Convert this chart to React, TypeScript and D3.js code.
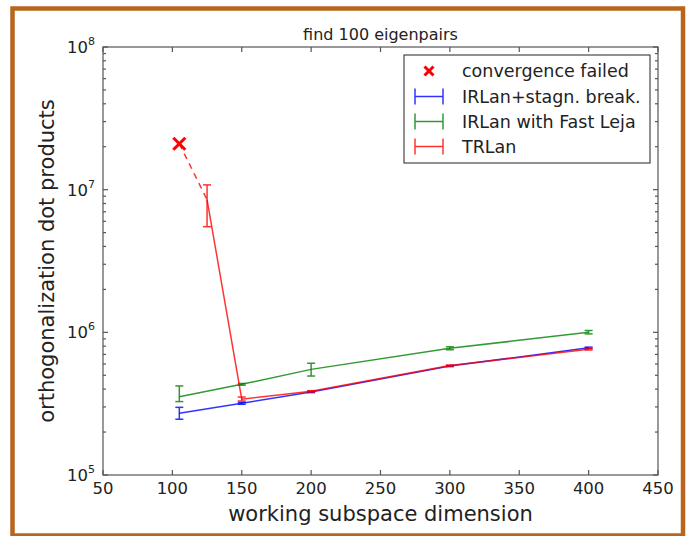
import React from 'react';
import * as d3 from 'd3';

// working subspace dimension vs. orthogonalization dot products (log scale)
const dims = [105, 150, 200, 300, 400];
const stagnVals = [2.71e5, 3.18e5, 3.82e5, 5.8e5, 7.8e5];
const stagnLo = [2.46e5, 3.13e5, 3.78e5, 5.75e5, 7.72e5];
const stagnHi = [2.98e5, 3.23e5, 3.86e5, 5.85e5, 7.88e5];

const lejaVals = [3.54e5, 4.32e5, 5.5e5, 7.73e5, 1.0e6];
const lejaLo = [3.27e5, 4.26e5, 4.94e5, 7.55e5, 9.75e5];
const lejaHi = [4.21e5, 4.38e5, 6.07e5, 7.92e5, 1.03e6];

const trlanDims = [125, 150, 200, 300, 400];
const trlanVals = [8.5e6, 3.4e5, 3.86e5, 5.85e5, 7.6e5];
const trlanLo = [5.5e6, 3.3e5, 3.82e5, 5.8e5, 7.52e5];
const trlanHi = [1.08e7, 3.52e5, 3.9e5, 5.9e5, 7.68e5];

const failedDim = 105;
const failedVal = 2.1e7;

const xTicks = [50, 100, 150, 200, 250, 300, 350, 400, 450];
const yDecades = [5, 6, 7, 8];

const legendLabels = ['convergence failed', 'IRLan+stagn. break.', 'IRLan with Fast Leja', 'TRLan'];

const W = 691;
const H = 536;
const margin = { left: 103, right: 658, top: 47, bottom: 475 };
const font = 'DejaVu Sans, sans-serif';

const x = d3.scaleLinear().domain([50, 450]).range([margin.left, margin.right]);
const y = d3.scaleLog().domain([1e5, 1e8]).range([margin.bottom, margin.top]);

const series = [
  { name: legendLabels[1], color: '#0000ff', xs: dims, v: stagnVals, lo: stagnLo, hi: stagnHi },
  { name: legendLabels[2], color: '#008000', xs: dims, v: lejaVals, lo: lejaLo, hi: lejaHi },
  { name: legendLabels[3], color: '#ff0000', xs: trlanDims, v: trlanVals, lo: trlanLo, hi: trlanHi },
];

const line = d3.line<[number, number]>().x(d => x(d[0])).y(d => y(d[1]));

const minorTicks: number[] = [];
yDecades.slice(0, -1).forEach(e => {
  for (let k = 2; k < 10; k++) minorTicks.push(k * Math.pow(10, e));
});

const ErrorBars = ({ s }) => (
  <g stroke={s.color} strokeWidth={1.5} opacity={0.8}>
    {s.xs.map((d, i) => (
      <g key={i}>
        <line x1={x(d)} x2={x(d)} y1={y(s.lo[i])} y2={y(s.hi[i])} />
        <line x1={x(d) - 4} x2={x(d) + 4} y1={y(s.lo[i])} y2={y(s.lo[i])} />
        <line x1={x(d) - 4} x2={x(d) + 4} y1={y(s.hi[i])} y2={y(s.hi[i])} />
      </g>
    ))}
  </g>
);

const Cross = ({ cx, cy, r }) => (
  <g stroke="#ff0000" strokeWidth={3}>
    <line x1={cx - r} x2={cx + r} y1={cy - r} y2={cy + r} />
    <line x1={cx - r} x2={cx + r} y1={cy + r} y2={cy - r} />
  </g>
);

const App = () => {
  const lgX = 404;
  const lgY = 55;
  const rowY = [71, 96.5, 121.5, 146.5];

  return (
    <svg width={W} height={H} style={{ position: 'absolute', left: 0, top: 0, background: '#fff' }} fontFamily={font}>
      <rect x={12.5} y={8.5} width={670.5} height={527} fill="none" stroke="#b8661e" strokeWidth={4.5} />

      <text x={(margin.left + margin.right) / 2} y={40} fontSize={16} textAnchor="middle" fill="#222">
        find 100 eigenpairs
      </text>

      {/* data */}
      {series.map(s => (
        <g key={s.name}>
          <path d={line(s.xs.map((d, i) => [d, s.v[i]]))} fill="none" stroke={s.color} strokeWidth={1.5} opacity={0.8} />
          <ErrorBars s={s} />
        </g>
      ))}
      <path
        d={line([[failedDim, failedVal], [trlanDims[0], trlanVals[0]]])}
        fill="none" stroke="#ff0000" strokeWidth={1.5} strokeDasharray="6,5" opacity={0.8}
      />
      <Cross cx={x(failedDim)} cy={y(failedVal)} r={6} />

      {/* axes frame and ticks */}
      <g stroke="#555" strokeWidth={1.2}>
        <rect x={margin.left} y={margin.top} width={margin.right - margin.left} height={margin.bottom - margin.top} fill="none" />
        {xTicks.map(t => (
          <g key={t}>
            <line x1={x(t)} x2={x(t)} y1={margin.bottom} y2={margin.bottom - 5} />
            <line x1={x(t)} x2={x(t)} y1={margin.top} y2={margin.top + 5} />
          </g>
        ))}
        {yDecades.map(e => (
          <g key={e}>
            <line x1={margin.left} x2={margin.left + 5} y1={y(Math.pow(10, e))} y2={y(Math.pow(10, e))} />
            <line x1={margin.right} x2={margin.right - 5} y1={y(Math.pow(10, e))} y2={y(Math.pow(10, e))} />
          </g>
        ))}
        {minorTicks.map(t => (
          <g key={t}>
            <line x1={margin.left} x2={margin.left + 3} y1={y(t)} y2={y(t)} />
            <line x1={margin.right} x2={margin.right - 3} y1={y(t)} y2={y(t)} />
          </g>
        ))}
      </g>

      <g fontSize={16.5} fill="#222">
        {xTicks.map(t => (
          <text key={t} x={x(t)} y={494} textAnchor="middle">{t}</text>
        ))}
        {yDecades.map(e => (
          <text key={e} x={95} y={y(Math.pow(10, e)) + 6} textAnchor="end">
            10<tspan fontSize={11} dy={-8}>{e}</tspan>
          </text>
        ))}
      </g>

      <text x={(margin.left + margin.right) / 2} y={521} fontSize={21} textAnchor="middle" fill="#222">
        working subspace dimension
      </text>
      <text
        transform={`translate(54, ${(margin.top + margin.bottom) / 2}) rotate(-90)`}
        fontSize={21} textAnchor="middle" fill="#222"
      >
        orthogonalization dot products
      </text>

      {/* legend */}
      <rect x={lgX} y={lgY} width={650 - lgX} height={108} fill="#fff" stroke="#222" strokeWidth={1} />
      <Cross cx={429} cy={rowY[0]} r={4.5} />
      {series.map((s, i) => (
        <g key={s.name} stroke={s.color} strokeWidth={1.5} opacity={0.8}>
          <line x1={415} x2={443} y1={rowY[i + 1]} y2={rowY[i + 1]} />
          <line x1={415} x2={415} y1={rowY[i + 1] - 8} y2={rowY[i + 1] + 8} />
          <line x1={443} x2={443} y1={rowY[i + 1] - 8} y2={rowY[i + 1] + 8} />
        </g>
      ))}
      <g fontSize={17.5} fill="#222">
        {legendLabels.map((l, i) => (
          <text key={l} x={462} y={rowY[i] + 6}>{l}</text>
        ))}
      </g>
    </svg>
  );
};

export default App;
